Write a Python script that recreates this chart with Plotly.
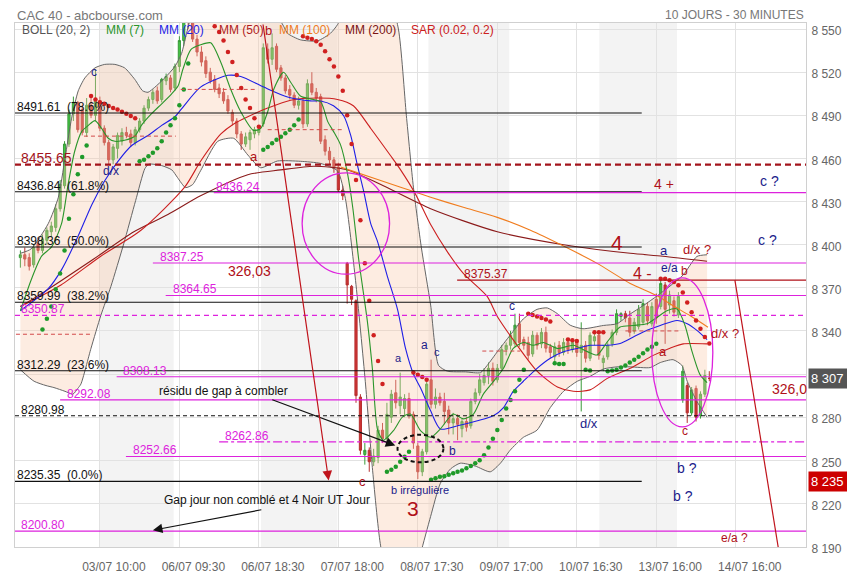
import plotly.graph_objects as go

FONT = "Liberation Sans, Arial, sans-serif"
NAVY = "#1b1b8a"
DRED = "#b01018"
MAG = "#dd22dd"

# ---- 30 minute candles, bar index 1..157 (left to right) ----
opens = [
    8391, 8393, 8391, 8386, 8401, 8396, 8403, 8409, 8412, 8425,
    8441, 8470, 8491, 8499, 8494, 8478, 8497, 8490, 8500, 8481,
    8471, 8459, 8467, 8472, 8478, 8477, 8471, 8480, 8486, 8495,
    8501, 8507, 8501, 8514, 8516, 8509, 8524, 8542, 8558, 8555,
    8543, 8534, 8528, 8520, 8515, 8509, 8506, 8501, 8492, 8486,
    8477, 8470, 8473, 8477, 8478, 8484, 8536, 8529, 8538, 8523,
    8516, 8508, 8504, 8497, 8500, 8484, 8512, 8506, 8503, 8473,
    8465, 8459, 8454, 8438, 8387, 8371, 8361, 8294, 8254, 8257,
    8249, 8252, 8271, 8265, 8280, 8297, 8288, 8286, 8293, 8282,
    8260, 8242, 8256, 8306, 8289, 8294, 8291, 8285, 8276, 8279,
    8272, 8277, 8274, 8291, 8297, 8304, 8309, 8314, 8306, 8314,
    8327, 8330, 8331, 8345, 8334, 8332, 8324, 8337, 8331, 8339,
    8329, 8322, 8330, 8325, 8332, 8327, 8332, 8325, 8330, 8321,
    8333, 8337, 8318, 8322, 8331, 8339, 8350, 8352, 8349, 8340,
    8343, 8346, 8357, 8345, 8362, 8357, 8372, 8358, 8361, 8351,
    8292, 8302, 8283, 8300, 8281, 8296, 8307,
]
highs = [
    8396, 8398, 8394, 8400, 8405, 8407, 8412, 8416, 8428, 8445,
    8472, 8494, 8503, 8500, 8497, 8502, 8504, 8522, 8503, 8483,
    8473, 8470, 8478, 8481, 8482, 8480, 8482, 8488, 8497, 8503,
    8508, 8510, 8516, 8519, 8518, 8526, 8545, 8562, 8566, 8560,
    8546, 8538, 8531, 8523, 8518, 8512, 8509, 8504, 8494, 8488,
    8479, 8478, 8480, 8482, 8481, 8540, 8540, 8547, 8540, 8525,
    8518, 8511, 8506, 8503, 8502, 8515, 8520, 8509, 8505, 8476,
    8468, 8461, 8457, 8441, 8388, 8372, 8362, 8296, 8262, 8259,
    8258, 8274, 8276, 8290, 8299, 8306, 8311, 8296, 8297, 8284,
    8262, 8258, 8305, 8320, 8300, 8297, 8297, 8288, 8283, 8282,
    8279, 8280, 8293, 8300, 8310, 8314, 8318, 8318, 8317, 8330,
    8332, 8340, 8352, 8352, 8336, 8336, 8340, 8339, 8342, 8343,
    8331, 8332, 8333, 8335, 8333, 8333, 8332.5, 8346, 8333, 8339,
    8338, 8338, 8323, 8332, 8341, 8355, 8353, 8354, 8354, 8349,
    8358, 8362, 8360, 8360, 8366, 8375, 8374, 8368, 8364, 8367,
    8316, 8304, 8301, 8302, 8298, 8313, 8312,
]
lows = [
    8384, 8385, 8382, 8384, 8394, 8394, 8400, 8405, 8409, 8423,
    8439, 8468, 8486, 8478, 8476, 8475, 8488, 8486, 8479, 8469,
    8456, 8456, 8460, 8469, 8474, 8468, 8469, 8478, 8484, 8493,
    8498, 8498, 8499, 8511, 8506, 8507, 8520, 8538, 8550, 8541,
    8531, 8524, 8516, 8512, 8506, 8502, 8498, 8491, 8483, 8474,
    8466, 8468, 8466, 8474, 8476, 8482, 8526, 8525, 8520, 8514,
    8505, 8501, 8495, 8494, 8481, 8482, 8504, 8499, 8470, 8462,
    8456, 8450, 8436, 8431, 8359, 8358, 8290, 8254, 8247, 8242,
    8246, 8248, 8262, 8263, 8276, 8286, 8282, 8280, 8279, 8258,
    8237, 8239, 8254, 8286, 8286, 8288, 8275, 8268, 8268, 8264,
    8266, 8270, 8272, 8289, 8295, 8302, 8303, 8302, 8304, 8312,
    8323, 8327, 8329, 8329, 8327, 8320, 8322, 8327, 8328, 8325,
    8321, 8318, 8322, 8323, 8324, 8325, 8322, 8284, 8318, 8319,
    8330, 8320, 8312, 8320, 8329, 8337, 8347, 8346, 8336, 8338,
    8341, 8344, 8344, 8343, 8345, 8355, 8331, 8352, 8350, 8349,
    8290, 8276, 8281, 8277, 8279, 8294, 8305,
]
closes = [
    8393, 8390, 8385, 8398, 8396, 8404, 8410, 8413, 8425, 8442,
    8470, 8491, 8499, 8480, 8478, 8497, 8490, 8500, 8481, 8471,
    8459, 8468, 8476, 8478, 8476, 8471, 8480, 8486, 8495, 8501,
    8506, 8500, 8515, 8517, 8508, 8524, 8542, 8558, 8555, 8543,
    8534, 8527, 8519, 8514, 8508, 8505, 8500, 8493, 8486, 8477,
    8470, 8475, 8478, 8480, 8480, 8537, 8529, 8537, 8522, 8516,
    8507, 8504, 8497, 8500, 8484, 8512, 8506, 8502, 8472, 8465,
    8459, 8453, 8438, 8434, 8372, 8362, 8295, 8257, 8257, 8249,
    8253, 8271, 8265, 8282, 8296, 8290, 8294, 8293, 8282, 8262,
    8242, 8256, 8303, 8289, 8294, 8290, 8284, 8276, 8279, 8275,
    8277, 8273, 8291, 8297, 8306, 8309, 8314, 8305, 8314, 8327,
    8330, 8337, 8344, 8332, 8330, 8323, 8337, 8330, 8339, 8328,
    8325, 8329, 8325, 8332, 8327, 8332, 8325, 8330, 8321, 8337,
    8336, 8323, 8321, 8330, 8339, 8352, 8352, 8349, 8339, 8346,
    8355, 8359, 8347, 8357, 8349, 8373, 8355, 8365, 8353, 8364,
    8312, 8283, 8299, 8280, 8296, 8309, 8307,
]
bars = list(range(1, len(closes) + 1))

# ---- indicator curves: (bar index, price) ----
boll_up_x = [1, 3.4, 7.3, 9.6, 11.1, 12.6, 14.1, 15.6, 17.9, 20.1, 22.4, 24.6, 26.9, 28.7, 29.9,
             31.4, 33.7, 36, 37.5, 38.7, 40, 44, 50, 56, 60.6, 61.5, 64.4, 68.3, 71.2, 72.8,
             74.6, 78, 83.7, 86.6, 88.4, 90, 91.8, 93.9, 95.7, 97.7, 101.8, 105.2, 106.7, 109,
             111.9, 114.9, 118, 120.3, 122.6, 125.5, 128.4, 133, 136.1, 139.1, 142, 145.2,
             148.1, 151.1, 154.2, 156.5]
boll_up_y = [8394, 8397, 8414.6, 8433, 8460, 8488, 8507, 8516, 8523, 8525.4, 8525.4, 8523, 8515,
             8507, 8506, 8509.4, 8516, 8524, 8533, 8548, 8562, 8580, 8590, 8575, 8552, 8547,
             8542.5, 8541.8, 8547, 8553, 8565, 8585, 8580, 8550, 8490, 8440, 8398, 8358, 8316,
             8312, 8311.5, 8311, 8316, 8325.5, 8337, 8348.4, 8355, 8356, 8352, 8344, 8341.5,
             8343.8, 8345, 8351.8, 8357.5, 8364.4, 8371.2, 8379, 8391.8, 8393]
boll_lo_x = [1, 4.1, 6.8, 8.6, 11.1, 12.9, 14, 14.7, 17, 19.2, 21.5, 24.4, 27.1, 29.2, 30.1, 33,
             35.3, 36.6, 38.4, 40, 41.8, 45.7, 49.3, 52.5, 55.4, 59.2, 64.4, 69, 72.8, 74.6,
             76.9, 79.1, 80.7, 82.5, 84.8, 89.3, 91.6, 93.9, 96.1, 98.4, 100.6, 104, 107.4,
             109.7, 111.9, 114.9, 118, 121, 124, 127.1, 130, 133, 136.1, 139.1, 143.6, 145.9,
             148.8, 150.8, 152, 154.2, 156.5]
boll_lo_y = [8313, 8305, 8302, 8300.6, 8298, 8296, 8300, 8303, 8328, 8350.6, 8371, 8400.6, 8430.7,
             8453, 8456, 8455, 8452, 8446.6, 8439.7, 8441.8, 8451.4, 8471.9, 8474, 8462.4,
             8453.5, 8458.2, 8458, 8456.5, 8451.4, 8432, 8375, 8305, 8245, 8192, 8160, 8160,
             8185, 8211, 8234, 8244, 8248, 8246, 8242, 8248, 8257, 8266, 8271, 8286.7, 8298,
             8305, 8308.4, 8313.5, 8315, 8315, 8314.5, 8318, 8320, 8316, 8305, 8291, 8280]

mm7_x = [1, 3.5, 5.8, 8.1, 10.3, 11.8, 13.3, 14.9, 16.4, 17.9, 19.4, 20.9, 22.4, 24.6, 26.9,
         28.4, 30.7, 33, 35.2, 36.7, 37.8, 39.6, 41.8, 44.1, 46.4, 48.6, 50.9, 53.8, 55.4, 57,
         58.4, 60.6, 62.2, 64.4, 66.7, 69, 70.6, 71.9, 73.5, 75.1, 76.3, 77.6, 79.6, 80.7,
         81.9, 83.2, 85.5, 87.5, 89.3, 91.6, 93.9, 96.1, 99, 101.3, 103.6, 105.8, 108.1,
         110.4, 112.6, 114.9, 117.1, 119.4, 122.6, 126.2, 129.4, 131.6, 133.9, 136.8, 139.8,
         142.9, 145.2, 147.4, 149.7, 151.5, 153.1, 154.9, 156.5]
mm7_y = [8354, 8376, 8392, 8398.6, 8414.4, 8441.8, 8465, 8478.8, 8483, 8486.3, 8480.8, 8474,
         8471.9, 8472.6, 8475.4, 8483, 8491.1, 8498, 8504.8, 8510.3, 8522, 8535.7, 8539,
         8540.4, 8526.7, 8508.3, 8492.5, 8479.5, 8480.8, 8492.5, 8508.3, 8519.9, 8513, 8503.4,
         8501.4, 8499.3, 8485.6, 8478.8, 8469.4, 8449, 8425, 8390, 8346, 8314, 8271, 8264,
         8270.7, 8280, 8282.2, 8270.7, 8266, 8271.8, 8282.2, 8278.8, 8282.2, 8295.9, 8304.7,
         8314, 8327.8, 8332, 8330, 8332, 8327.8, 8330, 8325.6, 8323.3, 8332.4, 8342.7,
         8343.8, 8345, 8349.5, 8354, 8355.3, 8343.8, 8325.6, 8309.6, 8304]

mm20_x = [1, 7.2, 10.4, 14, 17.2, 20.1, 23.1, 26.2, 29.9, 33, 36, 37.5, 41.8, 48, 50.9, 56.1,
          61.5, 66.7, 69, 71.9, 74.2, 75.8, 77.3, 78.7, 80.3, 81.9, 84.1, 86.4, 88.2, 90, 91.6,
          93.9, 96.1, 100, 104.5, 108.1, 110.4, 112.6, 114.9, 118, 121, 124, 127.1, 130,
          133.9, 136.8, 139.8, 142.9, 145.9, 149.7, 152, 154.2, 156.5]
mm20_y = [8354, 8369, 8383, 8405.5, 8428, 8444.5, 8458, 8469, 8476, 8483, 8489, 8494.5, 8509.6,
          8517.8, 8517, 8509.6, 8502.7, 8500, 8500, 8496.6, 8489.7, 8476, 8455.5, 8437.7,
          8415, 8402, 8378, 8355, 8328, 8310, 8300.4, 8284.4, 8271.8, 8274, 8277.5, 8281,
          8286.7, 8298, 8305, 8314, 8321, 8325.5, 8327.8, 8330, 8330, 8331.3, 8335.8, 8340.4,
          8343.8, 8347.3, 8345, 8340.4, 8334]

mm50_x = [1, 10.2, 19.2, 28.3, 38.2, 41.8, 46.4, 49.3, 52.5, 57, 62.2, 68.3, 72.8, 76.4, 80.3,
          84.8, 87.1, 90.5, 93.9, 97.7, 101.3, 106.7, 109, 113.5, 118, 122.6, 126.2, 130,
          133.9, 139.1, 144.3, 148.1, 151.1, 156.5]
mm50_y = [8357, 8372, 8392, 8410, 8440, 8458, 8477, 8484, 8489, 8495, 8500.5, 8502, 8501,
          8496.6, 8481, 8462, 8452, 8435, 8414, 8395, 8380, 8364, 8350, 8330, 8312, 8301,
          8298, 8299, 8307, 8314, 8323, 8328, 8331, 8331]

mm100_x = [73.5, 76.4, 87.1, 93.9, 101.3, 109, 116.5, 124, 131.6, 139.1, 145.2, 148.8, 152.6, 156.7]
mm100_y = [8454, 8451, 8440, 8433, 8426, 8419, 8410, 8399, 8387, 8373, 8364.4, 8357.5, 8350.7, 8342.6]

mm200_x = [1, 6.3, 17.6, 26.7, 34.4, 41.8, 52.5, 59.9, 67.4, 75.1, 82.5, 93.9, 109, 124, 139.1,
           146.5, 156.5]
mm200_y = [8357, 8367, 8390, 8409, 8421, 8434, 8448.7, 8452, 8454.6, 8452, 8442, 8425, 8409,
           8400, 8394, 8392, 8388.5]

# parabolic SAR dots: below price (green) and above price (red)
sar_up_x = [6, 7, 8, 9, 10, 11, 12, 13, 14, 15, 16,
            28, 29, 30, 31, 32, 33, 34, 35, 36, 37, 38, 39,
            56, 57, 58, 59, 60, 61, 62, 63, 64,
            84, 85, 86, 87, 88, 89,
            94, 95, 96, 97, 98, 99, 100, 101, 102, 103, 104, 105, 106, 107, 108, 109, 110,
            111, 112, 113, 114, 115,
            122, 123, 124,
            129, 130,
            134, 135, 136, 137, 138, 139, 140, 141, 142, 143, 144, 145]
sar_up_y = [8341, 8348.5, 8357, 8369, 8380, 8396, 8418, 8435, 8449, 8461, 8469,
            8458, 8459, 8461.5, 8464, 8467, 8472, 8478, 8483, 8488, 8497, 8508, 8526,
            8466, 8468, 8470.5, 8473, 8475, 8477.5, 8480, 8483, 8487,
            8242, 8243.5, 8245.5, 8249, 8252.5, 8256,
            8236.5, 8237.5, 8238.5, 8239, 8240, 8241, 8242, 8243, 8244.5, 8246, 8248, 8250,
            8253.5, 8259, 8265, 8271, 8278, 8286, 8292, 8298, 8306, 8313,
            8317.5, 8317, 8317,
            8313, 8312.5,
            8312, 8312.5, 8313, 8314.5, 8316, 8318, 8320, 8322, 8324.5, 8327, 8329, 8331]
sar_dn_x = [17, 18, 19, 20, 21, 22, 23, 24, 25, 26, 27,
            45, 46, 47, 48, 49, 50, 51, 52, 53, 54, 55,
            65, 66, 67, 68, 69, 70, 71, 72, 73, 74, 75, 76, 77, 78, 79, 80, 81, 82, 83,
            90, 91, 92, 93,
            116, 117, 118, 119, 120, 121,
            125, 126, 127,
            131, 132, 133,
            146, 147, 148, 149, 150, 151, 152, 153, 154, 155, 156, 157]
sar_dn_y = [8503.5, 8501, 8499, 8498, 8496.5, 8495, 8494, 8492.5, 8491, 8489.5, 8488,
            8552, 8548, 8542, 8534, 8527, 8518, 8509, 8501, 8495, 8488, 8482,
            8545, 8544, 8543, 8541.5, 8539, 8534.5, 8529, 8524, 8517, 8507, 8490, 8470, 8445,
            8417, 8387, 8361, 8337, 8319, 8303,
            8311, 8309.5, 8308, 8306,
            8352, 8351, 8350, 8349, 8348, 8346.5,
            8334, 8333.5, 8333,
            8339, 8339, 8339,
            8376.3, 8376.3, 8375.3, 8374, 8371.7, 8366.7, 8359.8, 8353, 8347.3, 8341.5,
            8335.8, 8331.3]

# ---- levels drawn on the chart ----
fib_levels = [8491.61, 8436.84, 8398.36, 8359.99, 8312.29, 8235.35]
fib_labels = ["8491.61\u00a0 (78.6%)", "8436.84\u00a0 (61.8%)", "8398.36\u00a0 (50.0%)",
              "8359.99\u00a0 (38.2%)", "8312.29\u00a0 (23.6%)", "8235.35\u00a0 (0.0%)"]
fib_end = 141.7
mag_levels = [8436.24, 8387.25, 8364.65, 8350.87, 8308.13, 8292.08, 8262.86, 8252.66, 8200.80]
mag_start = [44.8, 31.0, 33.9, -0.22, 22.8, 10.0, 46.0, 24.9, -0.22]
mag_label_x = [44.8, 32.1, 35.0, 0.7, 23.7, 11.1, 46.8, 26.0, 0.7]
mag_dash = ["solid", "solid", "solid", "5px,4px", "solid", "solid", "dashdot", "solid", "solid"]
red_short = [(8475.5, 15.4, 36.2), (8508.0, 37.3, 54.7), (8480.0, 57.0, 74.2),
             (8337.7, 0.0, 17.4), (8326.0, 105.6, 114.2), (8340.0, 138.0, 150.4)]
day_bands = [(19, 35.7), (55.5, 72.8), (93.4, 111.7), (132.1, 149.7)]

x_tick_pos = [19, 37, 55, 73, 91, 109, 127, 145, 163]
x_tick_text = ["03/07 10:00", "06/07 09:30", "06/07 18:30", "07/07 18:00", "08/07 17:30",
               "09/07 17:00", "10/07 16:30", "13/07 16:00", "14/07 16:00"]
y_tick_vals = [8190, 8220, 8250, 8280, 8310, 8340, 8370, 8400, 8430, 8460, 8490, 8520, 8550]
# the 8 310 label sits under the last-price box in the original, so it stays blank
y_tick_text = ["8 190", "8 220", "8 250", "8 280", "", "8 340", "8 370", "8 400", "8 430",
               "8 460", "8 490", "8 520", "8 550"]

x_min, x_max = -0.22, 178.9
y_min, y_max = 8189.7, 8554.2

fig = go.Figure()

# bollinger envelope
fig.add_trace(go.Scatter(x=boll_lo_x, y=boll_lo_y, mode="lines",
                         line=dict(color="#666", width=1, shape="spline", smoothing=0.6),
                         hoverinfo="skip"))
fig.add_trace(go.Scatter(x=boll_up_x, y=boll_up_y, mode="lines", fill="tonexty",
                         fillcolor="rgba(248,200,170,0.35)",
                         line=dict(color="#666", width=1, shape="spline", smoothing=0.6),
                         hoverinfo="skip"))

for xs, ys, col in [(mm200_x, mm200_y, "#8b1a1a"), (mm100_x, mm100_y, "#f07c1e"),
                    (mm50_x, mm50_y, "#cc1f1f"), (mm20_x, mm20_y, "#1e1ee6"),
                    (mm7_x, mm7_y, "#2a952a")]:
    fig.add_trace(go.Scatter(x=xs, y=ys, mode="lines",
                             line=dict(color=col, width=1.1, shape="spline", smoothing=0.7),
                             hoverinfo="skip"))

fig.add_trace(go.Candlestick(
    x=bars, open=opens, high=highs, low=lows, close=closes,
    increasing=dict(line=dict(color="#3a9a3a", width=1), fillcolor="#44c544"),
    decreasing=dict(line=dict(color="#b83030", width=1), fillcolor="#cc3333"),
    hoverinfo="skip"))

fig.add_trace(go.Scatter(x=sar_up_x, y=sar_up_y, mode="markers",
                         marker=dict(color="#1f9a2a", size=4.5), hoverinfo="skip"))
fig.add_trace(go.Scatter(x=sar_dn_x, y=sar_dn_y, mode="markers",
                         marker=dict(color="#d02020", size=4.5), hoverinfo="skip"))

shapes = []
for a, b in day_bands:
    shapes.append(dict(type="rect", xref="x", yref="paper", x0=a, x1=b, y0=0, y1=1,
                       fillcolor="#f3f3f3", line_width=0, layer="below"))


def hline(y, x0, x1, color, width=1.0, dash="solid"):
    shapes.append(dict(type="line", xref="x", yref="y", x0=x0, x1=x1, y0=y, y1=y,
                       line=dict(color=color, width=width, dash=dash), layer="above"))


for lvl in fib_levels:
    hline(lvl, x_min, fib_end, "#111", 1.1)
hline(8280.98, x_min, x_max, "#111", 1.1, "4px,3px")
for lvl, x0, d in zip(mag_levels, mag_start, mag_dash):
    hline(lvl, x0, x_max, MAG, 1.2, d)
hline(8455.65, x_min, x_max, "#a3141c", 2.4, "6px,4px")
hline(8375.37, 99.9, x_max, DRED, 1.2)
for lvl, x0, x1 in red_short:
    hline(lvl, x0, x1, "#d24a4a", 1, "4px,3px")

# red falling trend line on the right
shapes.append(dict(type="line", xref="x", yref="y", x0=162.8, y0=8375.37, x1=172.6, y1=y_min,
                   line=dict(color="#c0141c", width=1.2), layer="above"))
# circles / ellipses
shapes.append(dict(type="circle", xref="x", yref="y", x0=64.8, x1=84.6, y0=8379.5, y1=8450,
                   line=dict(color=MAG, width=1.3), layer="above"))
shapes.append(dict(type="circle", xref="x", yref="y", x0=144.0, x1=157.8, y0=8273.2, y1=8376.9,
                   line=dict(color=MAG, width=1.3), layer="above"))
shapes.append(dict(type="circle", xref="x", yref="y", x0=86.4, x1=96.8, y0=8248.6, y1=8267.8,
                   line=dict(color="#111", width=2, dash="4px,3px"), layer="above"))

notes = []


def note(x, y, text, color, size=12, **kw):
    d = dict(x=x, y=y, text=text, showarrow=False, xref="x", yref="y",
             font=dict(color=color, size=size, family=FONT))
    d.update(kw)
    notes.append(d)


for lvl, txt in zip(fib_levels, fib_labels):
    note(x_min, lvl, txt, "#111", 12, xanchor="left", yanchor="bottom", yshift=-3)
note(x_min, 8280.98, "8280.98", "#111", 12, xanchor="left", yanchor="bottom", yshift=-3, xshift=4)
for lvl, lx in zip(mag_levels, mag_label_x):
    note(lx, lvl, f"{lvl:.2f}", MAG, 12, xanchor="left", yanchor="bottom", yshift=-3)
note(0.7, 8455.65, "8455.65", "#a3141c", 14, xanchor="left", yanchor="bottom", yshift=-3)
note(101.1, 8375.37, "8375.37", DRED, 12, xanchor="left", yanchor="bottom", yshift=-3)

wave_labels = [
    (17.6, 8519.9, "c", NAVY, 12), (21.5, 8451.4, "d/x", NAVY, 12),
    (57.2, 8549.0, "b", DRED, 13), (53.8, 8461.6, "a", DRED, 13),
    (86.6, 8321.2, "a", NAVY, 11), (92.5, 8330.1, "a", NAVY, 12), (95.4, 8325.3, "c", NAVY, 11),
    (78.5, 8235.5, "c", DRED, 13), (91.4, 8229.5, "b irrégulière", NAVY, 11),
    (98.8, 8256.8, "b", NAVY, 12), (112.4, 8357.5, "c", NAVY, 12), (129.8, 8275.4, "d/x", NAVY, 13),
    (146.8, 8395.9, "a", NAVY, 13), (147.9, 8383.6, "e/a", NAVY, 12), (151.3, 8381.5, "b", DRED, 12),
    (154.2, 8396.6, "d/x ?", DRED, 13), (160.6, 8338.4, "d/x ?", DRED, 13),
    (146.5, 8325.9, "a", DRED, 13), (151.5, 8270.6, "c", DRED, 12),
    (170.7, 8444.5, "c ?", NAVY, 14), (170.1, 8403.4, "c ?", NAVY, 14),
    (152.0, 8245.0, "b ?", NAVY, 14), (151.1, 8225.0, "b ?", NAVY, 14),
    (162.6, 8195.8, "e/a ?", DRED, 12),
    (136.1, 8401.3, "4", DRED, 21), (141.8, 8380.3, "4 -", DRED, 16), (146.8, 8442.5, "4 +", DRED, 14),
    (89.8, 8216.5, "3", DRED, 21), (52.9, 8381.6, "326,03", DRED, 14),
]
for x, y, t, c, s in wave_labels:
    note(x, y, t, c, s, xanchor="center", yanchor="middle")
note(170.7, 8299.3, "326,0", DRED, 14, xanchor="left", yanchor="middle")
note(31.9, 8297.9, "résidu de gap à combler", "#111", 12, xanchor="left", yanchor="middle")
note(33.0, 8222.5, "Gap jour non comblé et 4 Noir UT Jour", "#111", 12,
     xanchor="left", yanchor="middle")

# arrows (head at x/y, tail at ax/ay)
for hx, hy, tx, ty, col in [(85.9, 8260.3, 57.7, 8292.5, "#111"),
                            (31.0, 8201.4, 55.9, 8215.8, "#111"),
                            (70.8, 8236.0, 55.9, 8554.2, "#c0141c")]:
    notes.append(dict(x=hx, y=hy, ax=tx, ay=ty, xref="x", yref="y", axref="x", ayref="y",
                      text="", showarrow=True, arrowhead=2, arrowsize=1.6, arrowwidth=1.2,
                      arrowcolor=col, standoff=0))

# header and indicator legend
notes.append(dict(x=0, y=1.015, xref="paper", yref="paper", text="CAC 40 - abcbourse.com",
                  showarrow=False, xanchor="left", yanchor="middle",
                  font=dict(family=FONT, size=13, color="#777")))
notes.append(dict(x=1, y=1.015, xref="paper", yref="paper", text="10 JOURS - 30 MINUTES",
                  showarrow=False, xanchor="right", yanchor="middle",
                  font=dict(family=FONT, size=12, color="#777")))
legend_items = [("BOLL (20, 2)", "#555", 0.0063), ("MM (7)", "#2a952a", 0.1124),
                ("MM (20)", "#1e1ee6", 0.1793), ("MM (50)", "#b01c1c", 0.2551),
                ("MM (100)", "#f07c1e", 0.3308), ("MM (200)", "#7b1414", 0.4141),
                ("SAR (0.02, 0.2)", "#cc2020", 0.4975)]
for t, c, px in legend_items:
    notes.append(dict(x=px, y=0.987, xref="paper", yref="paper", text=t, showarrow=False,
                      xanchor="left", yanchor="middle", font=dict(family=FONT, size=12, color=c)))

# last price / low boxes on the price axis
for val, txt, bg in [(8307, "8 307", "#555555"), (8235, "8 235", "#cc0000")]:
    notes.append(dict(x=1, y=val, xref="paper", yref="y", text=txt, showarrow=False,
                      xanchor="left", yanchor="middle", xshift=2, width=40, align="left",
                      bgcolor=bg, borderpad=2, font=dict(family=FONT, size=13, color="white")))

# the page body adds an 8px offset, so the figure is 8px smaller to fit the window
fig.update_layout(
    width=847, height=572,
    margin=dict(l=6, r=49, t=15, b=25),
    paper_bgcolor="white", plot_bgcolor="white",
    showlegend=False,
    shapes=shapes, annotations=notes,
    font=dict(family=FONT),
    xaxis=dict(range=[x_min, x_max], tickvals=x_tick_pos, ticktext=x_tick_text,
               showgrid=True, gridcolor="#e2e2e2", zeroline=False,
               showline=True, linecolor="#d0d0d0", mirror=True,
               tickfont=dict(size=12, color="#666"), ticklabelshift=14, ticklabelstandoff=9,
               rangeslider=dict(visible=False), fixedrange=True),
    yaxis=dict(range=[y_min, y_max], side="right", tickvals=y_tick_vals, ticktext=y_tick_text,
               showgrid=True, gridcolor="#e2e2e2", zeroline=False,
               showline=True, linecolor="#d0d0d0", mirror=True,
               tickfont=dict(size=12, color="#666"), ticklabelstandoff=2, ticklabelshift=2,
               fixedrange=True),
)

fig.write_html("out.html")
